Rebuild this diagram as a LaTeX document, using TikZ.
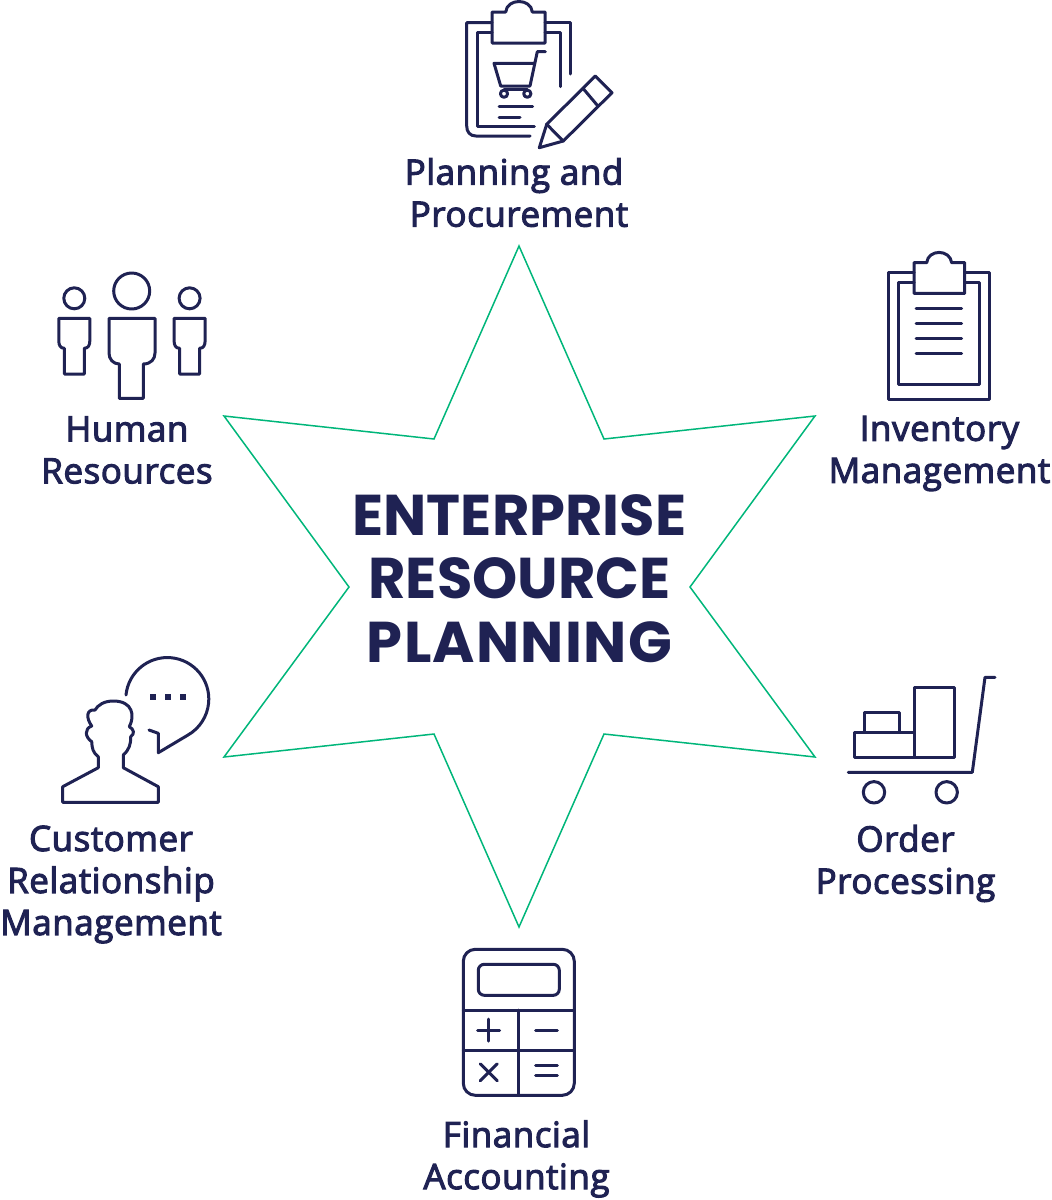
\documentclass[tikz,border=0pt]{standalone}
\usepackage{fontspec}
\setmainfont{Open Sans}[FakeBold=3,LetterSpace=1.5]
\newfontfamily\titlefont{Poppins}[BoldFont={Poppins Bold}]
\usetikzlibrary{positioning}
\definecolor{navy}{HTML}{1F2253}
\definecolor{stargreen}{HTML}{00B67A}
\tikzset{%
	label/.style={text=navy, align=center, inner sep=0pt, font=\fontsize{35}{42}\selectfont},
	heading/.style={text=navy, align=center, inner sep=0pt, font=\titlefont\bfseries\fontsize{57.5}{63.5}\selectfont},
	star/.style={draw=stargreen, line width=1.5pt, line join=miter},
	icon/.style={draw=navy, line width=3pt, line cap=round, line join=round}
}
\begin{document}
\begin{tikzpicture}[x=1pt,y=-1pt]
	\useasboundingbox (0,0) rectangle (1052,1200);
	% star
	\draw[star] (519,246) -- (604,439) -- (815,416) -- (690,587) -- (815,757) -- (604,734)
		-- (519,927) -- (434,734) -- (224,757) -- (349,587) -- (224,416) -- (434,439) -- cycle;
	\node[heading] (erp) at (519.5,578.5) {ENTERPRISE\\RESOURCE\\{\addfontfeature{LetterSpace=2.2}PLANNING}};

	% planning and procurement
	\draw[icon] (492,12) -- (505.7,12) .. controls (507,-2) and (531,-2) .. (532.3,12) -- (545,12) -- (545,43) -- (492,43) -- cycle;
	\draw[icon] (492,22.7) -- (466.7,22.7) -- (466.7,126) .. controls (466.7,132) and (470,136) .. (476,136) -- (530,136);
	\draw[icon] (545,22.7) -- (570,22.7) -- (570,74);
	\draw[icon] (492,32.7) -- (477.3,32.7) -- (477.3,126) -- (534.3,126);
	\draw[icon] (545,32.7) -- (560,32.7) -- (560,86.7);
	\draw[icon] (545.3,51.7) -- (537.3,51.7) -- (530,86) -- (500.7,86) -- (494,63.3) -- (534.3,63.3);
	\draw[icon] (504,89.5) -- (527.3,89.5);
	\draw[icon] (504,93.7) circle[radius=3.6];
	\draw[icon] (527.3,93.7) circle[radius=3.6];
	\draw[icon] (499,106.7) -- (532.7,106.7);
	\draw[icon] (499,117) -- (520,117);
	\draw[icon] (539.3,147.7) -- (546.7,124.3) -- (595.3,76) -- (612,92.7) -- (563.3,141) -- cycle;
	\draw[icon] (546.7,124.3) -- (563.3,141);
	\draw[icon] (583.3,88.7) -- (597.3,105.3);
	\node[label] (planning) at (514,192.5) {Planning and\\\hspace*{10pt}Procurement};

	% human resources
	\draw[icon] (131.7,291) circle[radius=18];
	\draw[icon] (109,318.3) -- (155,318.3) -- (155,353) .. controls (155,359) and (151,364) .. (143.3,364)
		-- (143.3,398.3) -- (119.3,398.3) -- (119.3,364) .. controls (113,364) and (109,359) .. (109,353) -- cycle;
	\foreach \cx in {74.3,189.6}{
		\draw[icon] (\cx,298.3) circle[radius=10.5];
		\draw[icon] (\cx-15.5,318.3) -- (\cx+15.5,318.3) -- (\cx+15.5,341) .. controls (\cx+15.5,345) and (\cx+14,348.3) .. (\cx+10,348.3)
			-- (\cx+10,374) -- (\cx-10,374) -- (\cx-10,348.3) .. controls (\cx-14,348.3) and (\cx-15.5,345) .. (\cx-15.5,341) -- cycle;
	}
	\node[label] (human) at (127,450) {Human\\Resources};

	% inventory management
	\draw[icon] (914,262.7) -- (926.7,262.7) .. controls (928,249) and (950,249) .. (951.7,262.7) -- (964.7,262.7) -- (964.7,293.3) -- (914,293.3) -- cycle;
	\draw[icon] (914,272.7) -- (888.7,272.7) -- (888.7,399.3) -- (989.3,399.3) -- (989.3,272.7) -- (964.7,272.7);
	\draw[icon] (914,282.7) -- (898.7,282.7) -- (898.7,384) -- (979.3,384) -- (979.3,282.7) -- (964.7,282.7);
	\foreach \ly in {308.3,323.3,338.3,353.3}
		\draw[icon] (916,\ly) -- (961.7,\ly);
	\node[label] (inventory) at (939.5,453.5) {Inventory\\Management};

	% customer relationship management
	\draw[icon] (126,695) arc[start angle=185.6, end angle=420.5, radius=41.5] -- (158.3,752.7) -- (158.3,733.3) -- (149,730);
	\foreach \dx in {153.3,168.3,183.3}
		\fill[navy] (\dx-3,694.3) rectangle (\dx+3,700.3);
	\draw[icon] (62.7,802.3) -- (158.3,802.3) -- (158.3,786.7) -- (123.3,767.7) -- (123.3,755)
		.. controls (129,750) and (131,744) .. (130.7,736.7) .. controls (135,734) and (134,729) .. (129.3,726.7)
		.. controls (135,716) and (133,701) .. (113.3,701) .. controls (104,701) and (98,705) .. (95,710)
		.. controls (86,709) and (86,718) .. (91.7,726) .. controls (84,729) and (85,737) .. (91.7,741.7)
		.. controls (92,748) and (93,753) .. (98.3,756.7) -- (98.3,767.7) -- (62.7,786.7) -- cycle;
	\node[label] (customer) at (111,884.5) {Customer\\Relationship\\Management};

	% order processing
	\draw[icon] (914,687.3) rectangle (954.7,757.3);
	\draw[icon] (854,732.3) rectangle (914,757.3);
	\draw[icon] (864,712.3) rectangle (899.3,732.3);
	\draw[icon] (848.3,772.3) -- (972.3,772.3) -- (985,677.3) -- (995,677.3);
	\draw[icon] (874,792.3) circle[radius=10.7];
	\draw[icon] (946.7,792.3) circle[radius=10.7];
	\node[label] (order) at (905.5,863.5) {Order\\Processing};

	% financial accounting
	\draw[icon, rounded corners=12pt] (463.3,949.3) rectangle (574.3,1095.3);
	\draw[icon, rounded corners=6pt] (478.3,964.3) rectangle (559.3,995.3);
	\draw[icon] (463.3,1010) -- (574.3,1010);
	\draw[icon] (463.3,1050) -- (574.3,1050);
	\draw[icon] (518.3,1010) -- (518.3,1095.3);
	\draw[icon] (477.7,1030) -- (499.7,1030);
	\draw[icon] (488.7,1019) -- (488.7,1041);
	\draw[icon] (535.7,1030) -- (557.3,1030);
	\draw[icon] (480.2,1063.8) -- (497.2,1080.8);
	\draw[icon] (480.2,1080.8) -- (497.2,1063.8);
	\draw[icon] (535.7,1065) -- (557.3,1065);
	\draw[icon] (535.7,1075) -- (557.3,1075);
	\node[label] (financial) at (516.5,1159) {Financial\\Accounting};
\end{tikzpicture}
\end{document}
